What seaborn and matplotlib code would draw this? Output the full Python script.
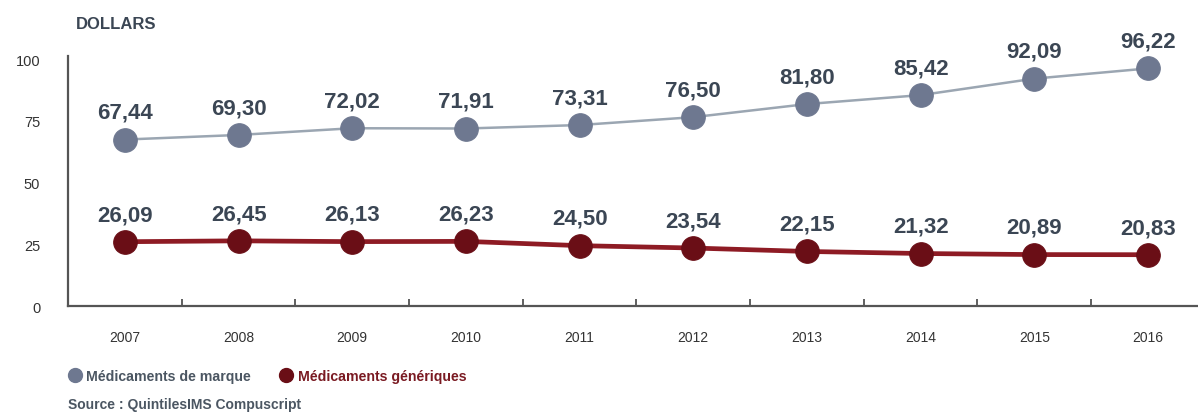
import pandas as pd
import matplotlib.pyplot as plt
import seaborn as sns
from matplotlib.lines import Line2D

years = ['2007', '2008', '2009', '2010', '2011', '2012', '2013', '2014', '2015', '2016']
marque = [67.44, 69.30, 72.02, 71.91, 73.31, 76.50, 81.80, 85.42, 92.09, 96.22]
generiques = [26.09, 26.45, 26.13, 26.23, 24.50, 23.54, 22.15, 21.32, 20.89, 20.83]
y_ticks = [0, 25, 50, 75, 100]

series_names = ['Médicaments de marque', 'Médicaments génériques']
marker_colors = ['#6e7890', '#6a0e16']
line_colors = ['#9ba6b2', '#8e1b24']
line_widths = [1.8, 3.4]
text_colors = ['#4b5662', '#7a1a22']
label_color = '#3b4654'

sns.set_theme(style='white')
plt.rcParams['font.family'] = ['Liberation Sans', 'DejaVu Sans']

df = pd.DataFrame({'x': range(len(years)), 'marque': marque, 'generiques': generiques})

fig = plt.figure(figsize=(11.98, 4.14), dpi=100)
ax = fig.add_axes([0.0568, 0.258, 0.9432, 0.604])

for i, col in enumerate(['marque', 'generiques']):
    sns.lineplot(data=df, x='x', y=col, ax=ax, color=line_colors[i], lw=line_widths[i],
                 marker='o', markersize=17, markerfacecolor=marker_colors[i],
                 markeredgecolor=marker_colors[i], legend=False, zorder=3)
    for x, v in zip(df['x'], df[col]):
        ax.annotate(f'{v:.2f}'.replace('.', ','), (x, v), xytext=(0, 12),
                    textcoords='offset points', ha='center', va='bottom',
                    fontsize=16, fontweight='bold', color=label_color)

ax.set_xlim(-0.5, 9.44)
ax.set_ylim(0, 101.2)
ax.set_xticks(range(len(years)))
ax.set_xticklabels(years)
ax.set_xticks([i + 0.5 for i in range(len(years) - 1)], minor=True)
ax.set_yticks(y_ticks)
ax.set_yticklabels([str(t) for t in y_ticks])
ax.tick_params(axis='x', which='major', length=0, pad=17, labelsize=10, labelcolor='#333333')
ax.tick_params(axis='x', which='minor', length=5, width=1.2, color='#444444', bottom=True, direction='in')
ax.tick_params(axis='y', length=0, pad=20, labelsize=10.5, labelcolor='#333333')
ax.set_xlabel('')
ax.set_ylabel('')
for s in ['top', 'right']:
    ax.spines[s].set_visible(False)
for s in ['left', 'bottom']:
    ax.spines[s].set_color('#555555')
    ax.spines[s].set_linewidth(1.6)

fig.text(0.063, 0.94, 'DOLLARS', fontsize=12, fontweight='bold', color='#3b4654', va='center')

handles = [Line2D([], [], ls='none', marker='o', markersize=10, color=c) for c in marker_colors]
fig.legend(handles, series_names, loc='center left', bbox_to_anchor=(0.046, 0.089), ncol=2,
           frameon=False, labelcolor=text_colors, prop={'weight': 'bold', 'size': 10.2},
           handletextpad=0.3, columnspacing=2.0, handlelength=1.0)

fig.text(0.057, 0.022, 'Source : QuintilesIMS Compuscript', fontsize=10, fontweight='bold',
         color='#4b5662', va='center')

fig.savefig('out.png', dpi=100)
